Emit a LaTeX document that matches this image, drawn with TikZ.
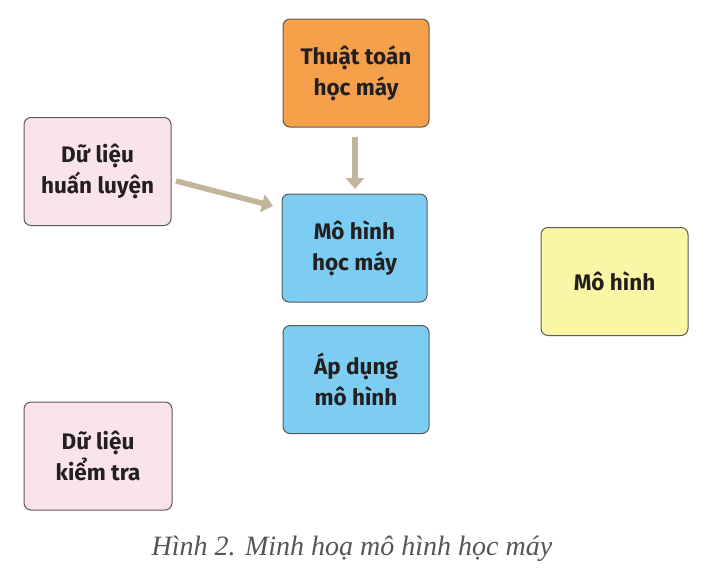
\documentclass[tikz,border=0pt]{standalone}
\usepackage{fontspec}
\setmainfont{Fira Sans}
\newfontfamily\capfont{Liberation Serif}
\usetikzlibrary{arrows.meta}
\definecolor{orangebox}{HTML}{F5A04A}
\definecolor{pinkbox}{HTML}{F9E4EE}
\definecolor{bluebox}{HTML}{7DCDF3}
\definecolor{yellowbox}{HTML}{FBF6A6}
\definecolor{edgegray}{HTML}{5A5A5A}
\definecolor{arrowtan}{HTML}{C2B59B}
\definecolor{textdark}{HTML}{231F20}
\definecolor{capgray}{HTML}{555555}
\tikzset{
  box/.style={draw=edgegray, line width=1pt, rounded corners=7pt,
    minimum width=146pt, minimum height=108pt, align=center,
    font=\fontsize{22.5}{31}\selectfont\bfseries, text=textdark, inner sep=0pt},
  flow/.style={draw=arrowtan, line width=5.5pt, -{Triangle[length=11pt,width=18pt]}}
}
\begin{document}
\begin{tikzpicture}[x=1pt,y=-1pt]
\useasboundingbox (0,0) rectangle (717,584);
\node[box, fill=orangebox] (algo) at (356,73) {Thuật toán\\học máy};
\node[box, fill=pinkbox, minimum width=147pt] (train) at (97.5,171.5) {Dữ liệu\\huấn luyện};
\node[box, fill=bluebox, minimum width=145pt] (model) at (354.5,248) {Mô hình\\học máy};
\node[box, fill=bluebox] (apply) at (356,379.5) {Áp dụng\\mô hình};
\node[box, fill=yellowbox, minimum width=147pt] (result) at (614.5,281.5) {Mô hình};
\node[box, fill=pinkbox, minimum width=148pt] (test) at (98,456) {Dữ liệu\\kiểm tra};
\coordinate (a1s) at (176,181);
\coordinate (a1e) at (273,206);
\draw[flow] (a1s) -- (a1e);
\coordinate (a2s) at (355,137);
\coordinate (a2e) at (355,189);
\draw[flow] (a2s) -- (a2e);
\node[font=\capfont\itshape\fontsize{28}{32}\selectfont, text=capgray] (cap) at (352,549) {Hình 2. Minh hoạ mô hình học máy};
\end{tikzpicture}
\end{document}
